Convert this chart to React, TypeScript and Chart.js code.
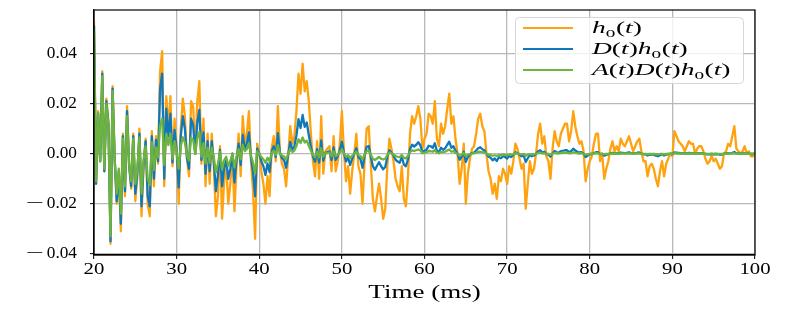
import React, { useEffect, useRef } from 'react';
import { Chart, registerables } from 'chart.js';

Chart.register(...registerables);

// sampling grid (ms), 0.25 ms step from 20 to 100
const times: number[] = Array.from({ length: 321 }, (_, i) => 20 + i * 0.25);

// values in units of 1e-3
const VALUE_UNIT = 1e-3;

// h0(t)
const h0: number[] = [
  53, -12, 17, -3, 33, -7, 22, 12, -36, 27, -2, -20, -8, -31, 8, -17,
  19, -5, -14, 8, -19, -9, 10, -25, -5, 6, -20, -25, 9, -13, 7, -4,
  33, 41, -13, 23, 10, 23, -5, 14, 2, -20, 10, 22, 15, -2, -9, 21,
  19, 0, 21, 29, -4, 14, -13, 8, -12, 8, -5, -25, -17, 3, -26, -11,
  -5, -20, -12, 0, -23, -5, 8, -9, 15, 4, 8, 17, -3, -15, -34, 4,
  0, -7, -12, -20, -9, -17, 2, 7, -3, 19, 1, -4, -6, -13, -1, 11,
  4, 7, 17, 32, 24, 36, 25, 29, 21, 8, -3, -9, 5, -10, 15, -8,
  1, 2, 3, -7, 7, -7, -3, 4, 17, 1, -11, -5, -16, -7, 0, 8,
  -5, -8, -20, -3, 10, 11, -4, -18, -23, -17, -12, -18, -26, -22, -5, 6,
  2, -3, -10, -13, -15, -5, -18, -21, -9, 8, 15, 12, 15, 19, 14, 2,
  6, 8, 16, 15, 12, 21, 6, 3, 12, 8, 11, 18, 24, 12, 15, 6,
  0, -12, -6, 4, -20, -8, -2, 2, 3, 8, 14, 16, 11, 9, 0, -7,
  -10, -16, -12, -18, -9, -11, -6, -8, -12, -5, -8, -3, 4, 2, -2, -6,
  -4, -22, -12, -3, -8, -6, 0, 8, 12, 4, 7, -1, -3, -10, 2, 9,
  5, 3, 8, 10, 12, 12, 5, 9, 17, 11, 7, 4, 5, 1, -11, -6,
  -3, -1, 4, 8, 8, -3, 0, -10, -6, -3, 2, 5, 1, 3, 1, 6,
  4, 3, 5, 7, 4, 1, 3, 5, 6, 1, -3, -3, -9, -5, -4, -6,
  -10, -13, -7, -3, -9, -4, -2, 0, -1, 9, 7, 5, 4, 3, 1, 3,
  5, 4, 4, 0, 2, 3, 3, 1, -2, -4, -3, -1, -3, -2, -4, -6,
  -5, 0, 1, 4, 3, 7, 11, 2, 1, 0, 1, 3, 0, 1, -1, -1,
  0,
];

// D(t)h0(t)
const dh0: number[] = [
  51, -12, 16, -3, 32, -7, 21, 12, -35, 26, -2, -19, -7, -28, 7, -15,
  17, -4.5, -13, 7, -16, -7.5, 8, -21, -4, 5, -17, -21, 7, -10, 5.5, -3,
  26, 32, -10, 18, 7, 16, -3.5, 9.5, 1.5, -13.5, 7, 15, 10, -1.5, -6, 14,
  11.5, 0, 12.5, 17.5, -2.5, 8.5, -8, 5, -7, 5, -3, -15, -8.5, 1.5, -13, -5.5,
  -2.5, -10, -6, 0, -11.5, -2.5, 4, -4.5, 7.5, 2, 4, 8.5, -1.5, -7.5, -17, 2,
  0, -3, -5, -8.5, -3.9, -7.3, 0.9, 3, -1.3, 8.2, 0.4, -1.7, -2.6, -5.6, -0.4, 4.7,
  1.7, 3, 7.3, 13.8, 10.3, 15.5, 10.8, 12.5, 7.4, 2.8, -1, -3.2, 1.8, -3.5, 5.3, -2.8,
  0.4, 0.7, 1, -2.5, 2.5, -2.5, -1, 1.4, 4.8, 0.3, -3.1, -1.4, -4.5, -2, 0, 2.2,
  -1.4, -2.2, -5.6, -0.8, 2.8, 3.1, -1.1, -5, -6.4, -4.8, -3.4, -5, -6.2, -5.3, -1.2, 1.4,
  0.5, -0.7, -2.4, -3.1, -3.6, -1.2, -4.3, -5, -2.2, 1.9, 3.6, 2.9, 3.6, 4.6, 3.4, 0.5,
  1.2, 1.6, 3.2, 3, 2.4, 4.2, 1.2, 0.6, 2.4, 1.6, 2.2, 3.6, 4.8, 2.4, 3, 1.2,
  0, -2.4, -1.2, 0.8, -3.2, -1.3, -0.3, 0.3, 0.5, 1.3, 2.2, 2.6, 1.8, 1.4, 0, -1.1,
  -1.6, -2.6, -1.9, -2.9, -1.4, -1.8, -1, -1.3, -1.9, -0.8, -1.3, -0.5, 0.6, 0.3, -0.3, -1,
  -0.6, -3.3, -1.8, -0.5, -1, -0.7, 0, 1, 1.4, 0.5, 0.8, -0.1, -0.4, -1.2, 0.2, 1.1,
  0.6, 0.4, 1, 1.2, 1.4, 1.4, 0.6, 1.1, 2, 1.3, 0.8, 0.5, 0.6, 0.1, -1.3, -0.7,
  -0.2, -0.1, 0.3, 0.6, 0.6, -0.2, 0, -0.8, -0.5, -0.2, 0.2, 0.4, 0.1, 0.2, 0.1, 0.5,
  0.3, 0.2, 0.4, 0.6, 0.3, 0.1, 0.2, 0.4, 0.5, 0.1, -0.2, -0.2, -0.7, -0.4, -0.3, -0.5,
  -0.8, -1, -0.6, -0.2, -0.7, -0.3, -0.2, 0, -0.1, 0.5, 0.4, 0.3, 0.2, 0.2, 0.1, 0.2,
  0.3, 0.2, 0.2, 0, 0.1, 0.2, 0.2, 0.1, -0.1, -0.2, -0.2, -0.1, -0.2, -0.1, -0.2, -0.4,
  -0.3, 0, 0.1, 0.2, 0.2, 0.4, 0.7, 0.1, 0.1, 0, 0.1, 0.2, 0, 0.1, -0.1, -0.1,
  0,
];

// A(t)D(t)h0(t)
const adh0: number[] = [
  49, -11, 16, -3, 31, -6, 20, 11, -33, 25, -2, -16, -6, -24, 6, -13,
  15, -4, -11, 6, -12, -6, 6.5, -16, -2.5, 3, -10, -12.5, 4.5, -6.5, 2.5, -1.5,
  11.5, 14, -4.5, 8, 3.5, 8, -2, 5, 0.6, -6, 3, 6.6, 4.5, -0.6, -2.7, 6.3,
  5.7, 0, 6.3, 8.7, -1.2, 4.2, -3.9, 2.4, -3.6, 2.4, -1.5, -7.5, -4, 0.7, -6.2, -2.6,
  -1.2, -4.8, -2.9, 0, -5.5, -1.2, 1.9, -2.2, 3.6, 1, 1.9, 4.1, -0.7, -3.6, -8, 1,
  0, -1.3, -2.2, -3.6, -1.6, -3.1, 0.4, 1.3, -0.5, 3.4, 0.2, -0.7, -1.1, -2.3, -0.2, 2,
  0.7, 1.3, 3.1, 5.8, 4.3, 6.5, 4.5, 5.2, 3.2, 1.2, -0.5, -1.4, 0.8, -1.5, 2.3, -1.2,
  0.2, 0.3, 0.5, -1, 1, -1, -0.5, 0.6, 1.9, 0.1, -1.2, -0.6, -1.8, -0.8, 0, 0.9,
  -0.6, -0.9, -2.2, -0.3, 1.1, 1.2, -0.4, -2, -2.5, -1.9, -1.3, -2, -2.3, -2, -0.5, 0.5,
  0.2, -0.3, -0.9, -1.2, -1.4, -0.5, -1.6, -1.9, -0.8, 0.7, 1.4, 1.1, 1.4, 1.7, 1.3, 0.2,
  0.4, 0.6, 1.1, 1, 0.8, 1.5, 0.4, 0.2, 0.8, 0.6, 0.8, 1.3, 1.7, 0.8, 1.1, 0.4,
  0, -0.8, -0.4, 0.3, -1, -0.4, -0.1, 0.1, 0.2, 0.4, 0.7, 0.8, 0.6, 0.5, 0, -0.4,
  -0.5, -0.8, -0.6, -0.9, -0.5, -0.6, -0.3, -0.4, -0.6, -0.3, -0.4, -0.2, 0.2, 0.1, -0.1, -0.3,
  -0.1, -0.8, -0.4, -0.1, -0.3, -0.2, 0, 0.3, 0.4, 0.1, 0.2, 0, -0.1, -0.4, 0.1, 0.3,
  0.2, 0.1, 0.3, 0.4, 0.4, 0.4, 0.2, 0.3, 0.6, 0.4, 0.2, 0.1, 0.2, 0, -0.4, -0.2,
  -0.1, 0, 0.1, 0.2, 0.2, -0.1, 0, -0.2, -0.1, -0.1, 0, 0.1, 0, 0.1, 0, 0.1,
  0.1, 0.1, 0.1, 0.1, 0.1, 0, 0.1, 0.1, 0.1, 0, -0.1, -0.1, -0.2, -0.1, -0.1, -0.1,
  -0.2, -0.3, -0.1, -0.1, -0.2, -0.1, 0, 0, 0, 0.2, 0.1, 0.1, 0.1, 0.1, 0, 0.1,
  0.1, 0.1, 0.1, 0, 0, 0.1, 0.1, 0, 0, -0.1, -0.1, 0, -0.1, 0, -0.1, -0.1,
  -0.1, 0, 0, 0.1, 0.1, 0.1, 0.2, 0, 0, 0, 0, 0.1, 0, 0, 0, 0,
  0,
];

const seriesLabels = ['h₀(t)', 'D(t)h₀(t)', 'A(t)D(t)h₀(t)'];
const seriesColors = ['#ffa20f', '#0f78ba', '#6cb33f'];
const xTitle = 'Time (ms)';
const X_MIN = 20;
const X_MAX = 100;
const X_STEP = 10;
const Y_MIN = -0.0405;
const Y_MAX = 0.0575;
const Y_STEP = 0.02;

const FONT = '"Liberation Serif", "DejaVu Serif", serif';
const GRID = '#b8b8b8';

function drawStretched(ctx: CanvasRenderingContext2D, text: string, x: number, y: number, align: CanvasTextAlign, sx: number) {
  ctx.save();
  ctx.translate(x, y);
  ctx.scale(sx, 1);
  ctx.textAlign = align;
  ctx.fillText(text, 0, 0);
  ctx.restore();
}

const SUBS = '₀₁₂₃₄₅₆₇₈₉';

function drawMath(ctx: CanvasRenderingContext2D, text: string, x: number, y: number, size: number, sx: number) {
  let cx = x;
  for (const ch of text) {
    const sub = SUBS.indexOf(ch);
    let font: string;
    let dy = 0;
    let glyph = ch;
    if (sub >= 0) {
      glyph = String(sub);
      font = `${size * 0.7}px ${FONT}`;
      dy = size * 0.22;
    } else if (/[A-Za-z]/.test(ch)) {
      font = `italic ${size}px ${FONT}`;
    } else {
      font = `${size}px ${FONT}`;
    }
    ctx.font = font;
    const w = ctx.measureText(glyph).width;
    ctx.save();
    ctx.translate(cx, y + dy);
    ctx.scale(sx, 1);
    ctx.textAlign = 'left';
    ctx.fillText(glyph, 0, 0);
    ctx.restore();
    cx += w * sx + (sub >= 0 ? 0.5 : 0);
  }
}

const decorPlugin = {
  id: 'decor',
  afterDatasetsDraw(chart: any) {
    const { ctx, chartArea: ca } = chart;
    ctx.save();
    ctx.strokeStyle = '#000';
    ctx.lineWidth = 1.2;
    ctx.strokeRect(ca.left, ca.top, ca.right - ca.left, ca.bottom - ca.top);
    ctx.restore();
  },
  afterDraw(chart: any) {
    const { ctx, chartArea: ca, scales } = chart;
    ctx.save();
    ctx.fillStyle = '#000';
    // y tick labels
    ctx.font = `16px ${FONT}`;
    ctx.textBaseline = 'middle';
    const yr = ca.left - 17;
    for (const t of scales.y.ticks) {
      const v = t.value;
      const py = scales.y.getPixelForValue(v);
      const digits = Math.abs(v).toFixed(2);
      drawStretched(ctx, digits, yr, py, 'right', 1.08);
      if (v < -1e-9) {
        const dw = ctx.measureText(digits).width * 1.08;
        drawStretched(ctx, '\u2212', yr - dw - 3, py, 'right', 2.0);
      }
    }
    // x tick labels
    ctx.textBaseline = 'top';
    for (const t of scales.x.ticks) {
      drawStretched(ctx, String(t.value), scales.x.getPixelForValue(t.value), ca.bottom + 7, 'center', 1.3);
    }
    // x title
    ctx.font = `18px ${FONT}`;
    ctx.textBaseline = 'middle';
    drawStretched(ctx, xTitle, (ca.left + ca.right) / 2, ca.bottom + 38, 'center', 1.5);

    // legend
    const bw = 228;
    const bh = 66;
    const bx = ca.right - 12 - bw;
    const by = ca.top + 7;
    ctx.beginPath();
    (ctx as any).roundRect(bx + 0.5, by + 0.5, bw, bh, 4);
    ctx.fillStyle = 'rgba(255,255,255,0.8)';
    ctx.fill();
    ctx.strokeStyle = '#d6d6d6';
    ctx.lineWidth = 1;
    ctx.stroke();
    ctx.textBaseline = 'alphabetic';
    chart.data.datasets.forEach((ds: any, i: number) => {
      const ry = by + 11 + i * 21;
      ctx.strokeStyle = ds.borderColor;
      ctx.lineWidth = 2;
      ctx.beginPath();
      ctx.moveTo(bx + 8, ry);
      ctx.lineTo(bx + 58, ry);
      ctx.stroke();
      ctx.fillStyle = '#000';
      drawMath(ctx, ds.label, bx + 77, ry + 5, 16, 1.72);
    });
    ctx.restore();
  },
};

export default function App() {
  const ref = useRef<HTMLCanvasElement | null>(null);
  useEffect(() => {
    if (!ref.current) return;
    const toPoints = (arr: number[]) => arr.map((v, i) => ({ x: times[i], y: v * VALUE_UNIT }));
    const line = { borderWidth: 2.3, pointRadius: 0, borderJoinStyle: 'round' as const, borderCapStyle: 'round' as const };
    const chart = new Chart(ref.current, {
      type: 'line',
      data: {
        datasets: [
          { label: seriesLabels[0], data: toPoints(h0), borderColor: seriesColors[0], order: 3, ...line },
          { label: seriesLabels[1], data: toPoints(dh0), borderColor: seriesColors[1], order: 2, ...line },
          { label: seriesLabels[2], data: toPoints(adh0), borderColor: seriesColors[2], order: 1, ...line },
        ],
      },
      options: {
        responsive: false,
        animation: false,
        events: [],
        layout: { padding: { left: 0, top: 10, right: 35, bottom: 0 } },
        plugins: { legend: { display: false }, tooltip: { enabled: false } },
        scales: {
          x: {
            type: 'linear',
            min: X_MIN,
            max: X_MAX,
            ticks: { stepSize: X_STEP, display: false },
            grid: { color: GRID, lineWidth: 1.3, drawTicks: true, tickLength: 4, tickColor: '#000', tickWidth: 1 },
            border: { color: '#000', width: 1.2 },
            afterFit: (s: any) => { s.height = 55; },
          },
          y: {
            type: 'linear',
            min: Y_MIN,
            max: Y_MAX,
            ticks: { stepSize: Y_STEP, includeBounds: false, display: false },
            grid: { color: GRID, lineWidth: 1.3, drawTicks: true, tickLength: 4, tickColor: '#000', tickWidth: 1 },
            border: { color: '#000', width: 1.2 },
            afterFit: (s: any) => { s.width = 94; },
          },
        },
      } as any,
      plugins: [decorPlugin],
    });
    return () => chart.destroy();
  }, []);
  return (
    <div style={{ position: 'fixed', left: 0, top: 0, width: 790, height: 310, background: '#fff' }}>
      <canvas ref={ref} width={790} height={310} />
    </div>
  );
}
